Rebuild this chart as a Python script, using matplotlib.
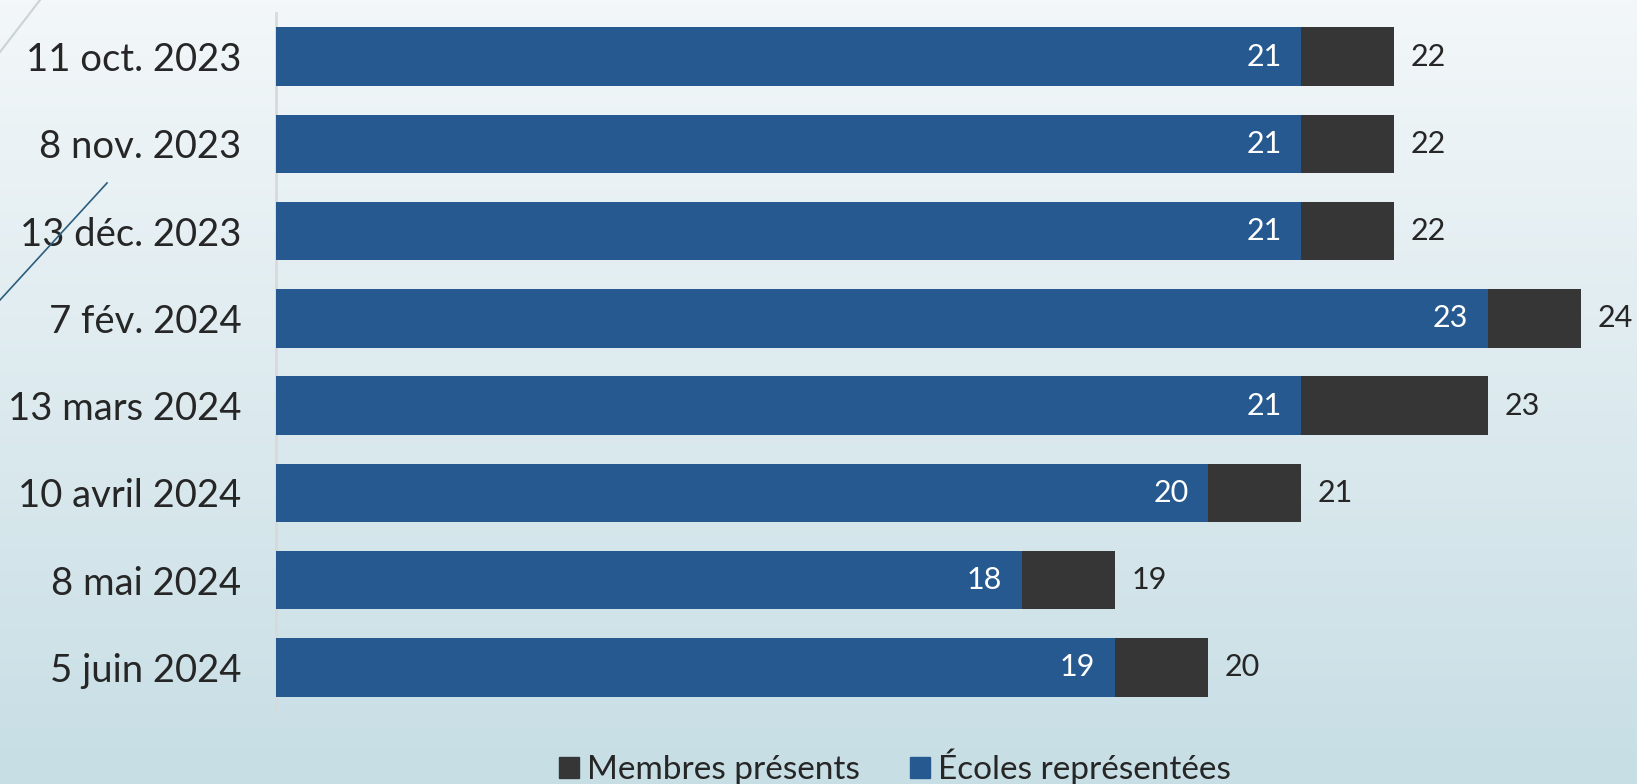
import numpy as np
import matplotlib.pyplot as plt
from matplotlib.lines import Line2D

dates = ['11 oct. 2023', '8 nov. 2023', '13 déc. 2023', '7 fév. 2024',
         '13 mars 2024', '10 avril 2024', '8 mai 2024', '5 juin 2024']
membres = [22, 22, 22, 24, 23, 21, 19, 20]
ecoles = [21, 21, 21, 23, 21, 20, 18, 19]

blue = '#26598f'
dark = '#363636'
plt.rcParams['font.family'] = ['Lato', 'DejaVu Sans']

W, H = 1637, 784
fig = plt.figure(figsize=(W / 100, H / 100), dpi=100)

# background gradient
bg = fig.add_axes([0, 0, 1, 1], zorder=-10)
top = np.array([243, 247, 249]) / 255
bot = np.array([199, 222, 229]) / 255
t = np.linspace(0, 1, 256)[:, None]
grad = top + (bot - top) * t
bg.imshow(grad[:, None, :].repeat(2, axis=1), aspect='auto', extent=[0, 1, 0, 1])
bg.axis('off')

# decorative strokes in the corner
fig.add_artist(Line2D([0, 40 / W], [1 - 52 / H, 1], transform=fig.transFigure,
                      color='#c9d3d8', lw=1.5))
fig.add_artist(Line2D([0, 107 / W], [1 - 300 / H, 1 - 183 / H], transform=fig.transFigure,
                      color='#2b5d7e', lw=1.2))

x0 = 276 / W
unit = 93.2 / W
ax = fig.add_axes([x0, 1 - 711 / H, 15 * unit, 698 / H])
ax.set_facecolor('none')
ax.set_xlim(10, 25)

y = np.arange(len(dates))
ax.barh(y, membres, height=0.67, color=dark, zorder=2)
ax.barh(y, ecoles, height=0.67, color=blue, zorder=3)
ax.set_ylim(len(dates) - 0.5, -0.5)

for i in range(len(dates)):
    ax.annotate(str(ecoles[i]), (ecoles[i], y[i]), xytext=(-14, 0), textcoords='offset points',
                ha='right', va='center', color='white', fontsize=22, zorder=4)
    ax.annotate(str(membres[i]), (membres[i], y[i]), xytext=(12, 0), textcoords='offset points',
                ha='left', va='center', color='#262626', fontsize=22, zorder=4)

ax.set_yticks(y)
ax.set_yticklabels(dates, fontsize=27.5, color='#262626')
ax.tick_params(axis='y', length=0, pad=25)
ax.set_xticks([])
for s in ['top', 'right', 'bottom']:
    ax.spines[s].set_visible(False)
ax.spines['left'].set_color('#d9d9d9')
ax.spines['left'].set_linewidth(2)

handles = [plt.Rectangle((0, 0), 1, 1, color=dark), plt.Rectangle((0, 0), 1, 1, color=blue)]
fig.legend(handles, ['Membres présents', 'Écoles représentées'], loc='center',
           bbox_to_anchor=(895 / W, 1 - 767 / H), ncol=2, frameon=False, fontsize=24,
           handlelength=0.6, handleheight=0.6, handletextpad=0.25, columnspacing=1.5,
           labelcolor='#262626')

fig.savefig('out.png', dpi=100)
